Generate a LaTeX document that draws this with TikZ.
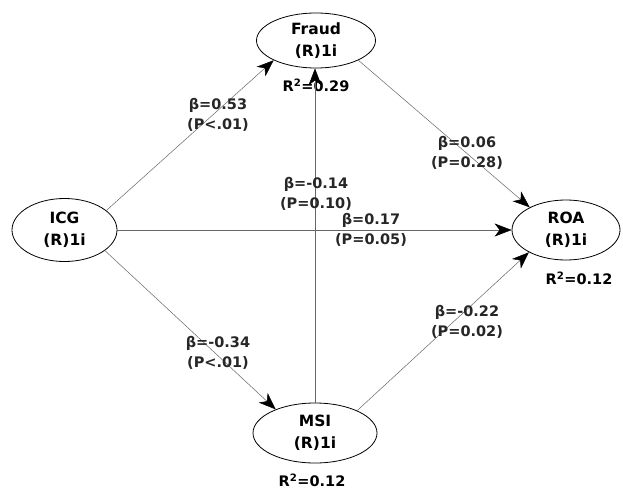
\documentclass[tikz,border=0pt]{standalone}
\usepackage{fontspec}
\setmainfont{DejaVu Sans}
\usepackage{tikz}
\usetikzlibrary{arrows.meta,shapes.geometric,positioning}

\begin{document}
\begin{tikzpicture}[
  x=1pt, y=-1pt, >={Stealth[length=17pt,width=13pt,inset=5pt,color=black]},
  lv/.style={draw,ellipse,line width=0.8pt,inner sep=0pt,align=center,
    font=\bfseries\fontsize{15.5}{22}\selectfont},
  path/.style={->,line width=0.5pt,draw=black!60},
  coef/.style={align=center,inner sep=0pt,text=black!85,font=\bfseries\fontsize{14.5}{20}\selectfont},
  rsq/.style={inner sep=0pt,font=\bfseries\fontsize{14.5}{16}\selectfont}]
\useasboundingbox (0,0) rectangle (623,492);
% latent variables
\node[lv,minimum width=105pt,minimum height=63pt] (ICG) at (64.5,230) {ICG\\(R)1i};
\node[lv,minimum width=119pt,minimum height=55pt] (Fraud) at (316,40.5) {Fraud\\(R)1i};
\node[lv,minimum width=124pt,minimum height=60pt] (MSI) at (315,433) {MSI\\(R)1i};
\node[lv,minimum width=108pt,minimum height=60pt] (ROA) at (566,230) {ROA\\(R)1i};
% R squared
\node[rsq] (rFraud) at (316,85) {R\textsuperscript{2}=0.29};
\node[rsq] (rROA) at (579,278) {R\textsuperscript{2}=0.12};
\node[rsq] (rMSI) at (312,480) {R\textsuperscript{2}=0.12};
% paths
\draw[path] (ICG.25) -- (Fraud.205);
\draw[path] (ICG) -- (ROA);
\draw[path] (ICG.-27) -- (MSI.149);
\draw[path] (MSI.north) -- (MSI.north |- Fraud.south);
\draw[path] (Fraud.-25) -- (ROA.148);
\draw[path] (MSI.28) -- (ROA.211);
% coefficients
\node[coef] (cIF) at (218,115) {β=0.53\\(P<.01)};
\node[coef] (cFR) at (467,153) {β=0.06\\(P=0.28)};
\node[coef] (cMF) at (316,194) {β=-0.14\\(P=0.10)};
\node[coef] (cIR) at (371,230) {β=0.17\\(P=0.05)};
\node[coef] (cIM) at (218,353) {β=-0.34\\(P<.01)};
\node[coef] (cMR) at (467,322) {β=-0.22\\(P=0.02)};
\end{tikzpicture}
\end{document}
